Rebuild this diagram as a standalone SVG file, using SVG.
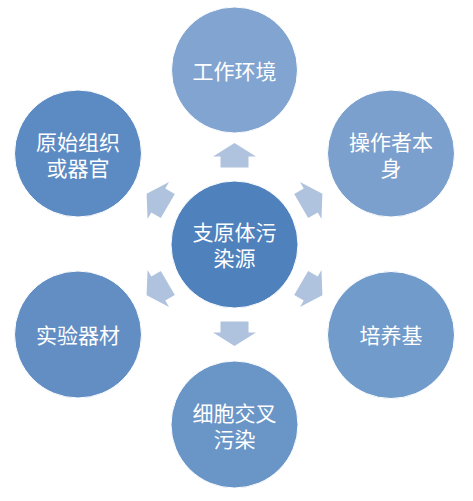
<svg xmlns="http://www.w3.org/2000/svg" width="473" height="501" viewBox="0 0 473 501">
<style>
.c{stroke:#ffffff;stroke-width:1}
.t{fill:#ffffff;font-family:"Noto Sans CJK SC","Noto Sans",sans-serif;font-size:21px;text-anchor:middle;dominant-baseline:central}
.a{fill:#B0C3DE}
</style>
<defs>
<polygon id="arr" points="-14,-77 14,-77 14,-88 21.5,-88 0,-101.5 -21.5,-88 -14,-88"/>
</defs>
<rect width="473" height="501" fill="#ffffff"/>
<g id="connectors">
<use href="#arr" class="a" transform="translate(234.5,244.5) rotate(0)"/>
<use href="#arr" class="a" transform="translate(234.5,244.5) rotate(60)"/>
<use href="#arr" class="a" transform="translate(234.5,244.5) rotate(120)"/>
<use href="#arr" class="a" transform="translate(234.5,244.5) rotate(180)"/>
<use href="#arr" class="a" transform="translate(234.5,244.5) rotate(240)"/>
<use href="#arr" class="a" transform="translate(234.5,244.5) rotate(300)"/>
</g>
<g id="center">
<circle class="c" cx="234.5" cy="244.5" r="63.5" fill="#4F81BD"/>
<text class="t" x="234.5" y="231">支原体污</text>
<text class="t" x="234.5" y="257">染源</text>
</g>
<g id="top">
<circle class="c" cx="234.5" cy="70" r="63" fill="#82A4D0"/>
<text class="t" x="234.5" y="70">工作环境</text>
</g>
<g id="upper-right">
<circle class="c" cx="391" cy="153.5" r="63.5" fill="#7BA0CD"/>
<text class="t" x="391" y="140.5">操作者本</text>
<text class="t" x="391" y="166.5">身</text>
</g>
<g id="lower-right">
<circle class="c" cx="391" cy="335" r="63.5" fill="#719BCA"/>
<text class="t" x="391" y="334">培养基</text>
</g>
<g id="bottom">
<circle class="c" cx="234.5" cy="424.5" r="63.5" fill="#6A95C7"/>
<text class="t" x="234.5" y="411.5">细胞交叉</text>
<text class="t" x="234.5" y="437.5">污染</text>
</g>
<g id="lower-left">
<circle class="c" cx="78" cy="334.5" r="63.5" fill="#628EC4"/>
<text class="t" x="78" y="334">实验器材</text>
</g>
<g id="upper-left">
<circle class="c" cx="78" cy="153.5" r="63.5" fill="#5C8AC2"/>
<text class="t" x="78" y="140.5">原始组织</text>
<text class="t" x="78" y="166.5">或器官</text>
</g>
</svg>
